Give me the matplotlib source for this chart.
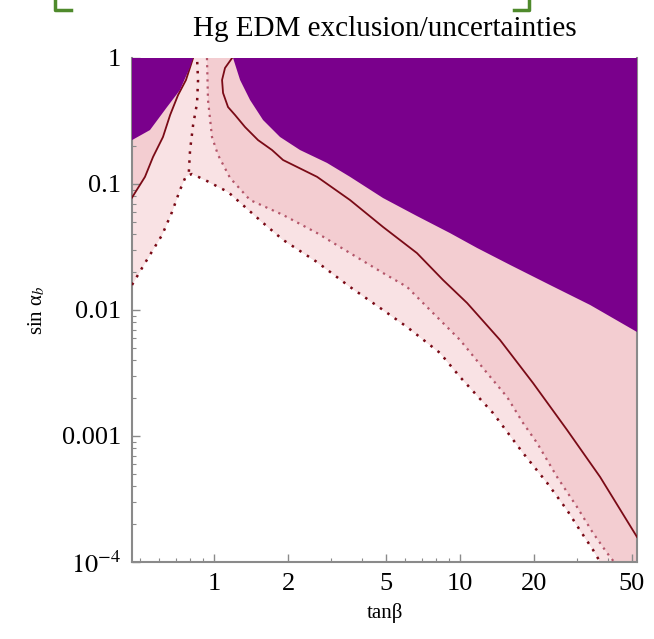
import numpy as np
import matplotlib
matplotlib.use("Agg")
import matplotlib.pyplot as plt
from matplotlib.lines import Line2D

plt.rcParams['font.family'] = ['Liberation Serif', 'DejaVu Serif']
plt.rcParams['mathtext.fontset'] = 'stix'

# ---------------- data ----------------
title = "Hg EDM exclusion/uncertainties"
x_label = "tanβ"
y_label = "sin α$_b$"
x_ticks = [1, 2, 5, 10, 20, 50]
x_tick_labels = ["1", "2", "5", "10", "20", "50"]
y_ticks = [1e-4, 1e-3, 1e-2, 1e-1, 1]
y_tick_labels = [r"$10^{-4}$", "0.001", "0.01", "0.1", "1"]
x_range = (0.464, 52.4)
y_range = (1e-4, 1.0)

# excluded region boundary (purple), left and right branches
excl_left_tb = [0.464, 0.549, 0.644, 0.727, 0.799, 0.822]
excl_left_sa = [0.223, 0.268, 0.408, 0.557, 0.848, 1.0]
excl_right_tb = [1.195, 1.276, 1.401, 1.582, 1.855, 2.237, 2.879, 3.571, 4.864,
                 6.68, 9.10, 11.72, 15.97, 23.2, 33.8, 52.4]
excl_right_sa = [1.0, 0.669, 0.464, 0.322, 0.236, 0.186, 0.147, 0.114, 0.0774,
                 0.0557, 0.0408, 0.0311, 0.0228, 0.0158, 0.01096, 0.00669]

# central curve (solid)
central_left_tb = [0.464, 0.524, 0.565, 0.620, 0.663, 0.714, 0.769, 0.822]
central_left_sa = [0.078, 0.114, 0.164, 0.236, 0.353, 0.508, 0.669, 1.0]
central_right_tb = [1.184, 1.108, 1.078, 1.088, 1.140, 1.217, 1.337, 1.510, 1.721,
                    1.908, 2.623, 3.571, 4.864, 6.68, 8.53, 10.68, 14.54, 19.81,
                    27.2, 37.1, 52.4]
central_right_sa = [1.0, 0.833, 0.669, 0.528, 0.408, 0.353, 0.283, 0.223, 0.186,
                    0.155, 0.114, 0.0746, 0.0456, 0.0283, 0.0173, 0.01137, 0.00578,
                    0.00263, 0.00112, 4.73e-4, 1.58e-4]

# intermediate uncertainty curve (dotted, light)
mid_tb = [0.936, 0.945, 0.981, 1.038, 1.162, 1.401, 1.908, 2.623, 3.571, 4.864,
          6.09, 7.55, 10.0, 12.88, 15.53, 18.03, 20.56, 24.8, 29.9, 34.7, 39.6, 42.3]
mid_sa = [1.0, 0.464, 0.236, 0.170, 0.1116, 0.0746, 0.0568, 0.0408, 0.0283, 0.01966,
          0.01524, 0.0100, 0.00578, 0.00316, 0.00204, 0.00127, 8.8e-4, 4.73e-4,
          2.73e-4, 1.70e-4, 1.18e-4, 1e-4]

# lowest uncertainty curve (dotted, dark) = edge of allowed white region
low_tb = [0.464, 0.524, 0.615, 0.675, 0.727, 0.769, 0.814, 0.919, 1.140, 1.337,
          1.567, 1.908, 2.623, 3.571, 4.864, 6.09, 8.29, 10.0, 13.62, 18.03, 22.6,
          27.2, 30.7, 34.7, 37.1]
low_sa = [0.0158, 0.0236, 0.0394, 0.060, 0.0896, 0.1157, 0.120, 0.1076, 0.0864,
          0.0657, 0.0499, 0.0360, 0.0240, 0.01524, 0.0100, 0.00733, 0.00456,
          0.00294, 0.00152, 7.33e-4, 4.24e-4, 2.59e-4, 1.79e-4, 1.25e-4, 1e-4]

# near-vertical dotted curve rising from the apex
vert_tb = [0.790, 0.799, 0.822, 0.853, 0.861, 0.853]
vert_sa = [0.125, 0.186, 0.294, 0.439, 0.669, 1.0]

# ---------------- style ----------------
C_PURPLE = '#7a008c'
C_PINK = '#f3cdd1'
C_LIGHT = '#f9e2e4'
C_DARK = '#7a0a16'
C_MIDLINE = '#b4566a'
C_AXIS = '#8a8a8a'

fig = plt.figure(figsize=(6.54, 6.39), dpi=100)
ax = fig.add_axes([132 / 654, 1 - 562 / 639, 505 / 654, 504 / 639])
ax.set_xscale('log')
ax.set_yscale('log')
ax.set_xlim(*x_range)
ax.set_ylim(*y_range)

x0, x1 = x_range
y0, y1 = y_range

# pink uncertainty band: everything above the lowest curve
pink_x = list(low_tb) + [x1, x1, x0]
pink_y = list(low_sa) + [y0, y1, y1]
ax.fill(pink_x, pink_y, color=C_PINK, lw=0, zorder=1)

# lighter inner band between lowest curve and central-left / mid curves
light_x = list(low_tb) + list(mid_tb[::-1]) + list(central_left_tb[::-1])
light_y = list(low_sa) + list(mid_sa[::-1]) + list(central_left_sa[::-1])
ax.fill(light_x, light_y, color=C_LIGHT, lw=0, zorder=2)

# curves
ax.plot(central_left_tb, central_left_sa, color=C_DARK, lw=1.3, zorder=4)
ax.plot(central_right_tb, central_right_sa, color=C_DARK, lw=1.3, zorder=4)
ax.plot(mid_tb, mid_sa, color=C_MIDLINE, lw=1.6, ls=(0, (1, 2.2)), zorder=4)
ax.plot(low_tb, low_sa, color=C_DARK, lw=1.8, ls=(0, (1, 2.6)), zorder=4)
ax.plot(vert_tb, vert_sa, color=C_DARK, lw=1.8, ls=(0, (1, 2.6)), zorder=4)

# purple excluded regions
ax.fill(list(excl_left_tb) + [x0], list(excl_left_sa) + [y1],
        color=C_PURPLE, lw=0, zorder=5)
ax.fill(list(excl_right_tb) + [x1], list(excl_right_sa) + [y1],
        color=C_PURPLE, lw=0, zorder=5)

# axes / ticks
for s in ax.spines.values():
    s.set_color(C_AXIS)
    s.set_linewidth(1.5)
ax.spines['top'].set_visible(False)
ax.set_xticks(x_ticks)
ax.set_xticklabels(x_tick_labels)
ax.set_yticks(y_ticks)
ax.set_yticklabels(y_tick_labels)
ax.tick_params(which='both', direction='in', color=C_AXIS, top=False, right=False)
ax.tick_params(which='major', length=6, width=1.0, labelsize=19, pad=8)
ax.tick_params(which='minor', length=3, width=0.8)
ax.tick_params(axis='x', which='minor', labelbottom=False)
ax.set_axisbelow(False)

ax.set_title(title, fontsize=21, pad=16)
ax.set_xlabel(x_label, fontsize=15, labelpad=6)
ax.set_ylabel(y_label, fontsize=15, labelpad=4)
ax.yaxis.set_label_coords(-0.167, 0.5)

# green frame corner marks at the top of the image
g = '#4f8a2c'
fig.add_artist(Line2D([55 / 654, 55 / 654, 71 / 654], [1.0, 1 - 10 / 639, 1 - 10 / 639],
                      color=g, lw=2.5, transform=fig.transFigure))
fig.add_artist(Line2D([514 / 654, 529 / 654, 529 / 654], [1 - 10 / 639, 1 - 10 / 639, 1.0],
                      color=g, lw=2.5, transform=fig.transFigure))

fig.savefig('out.png', dpi=100)
